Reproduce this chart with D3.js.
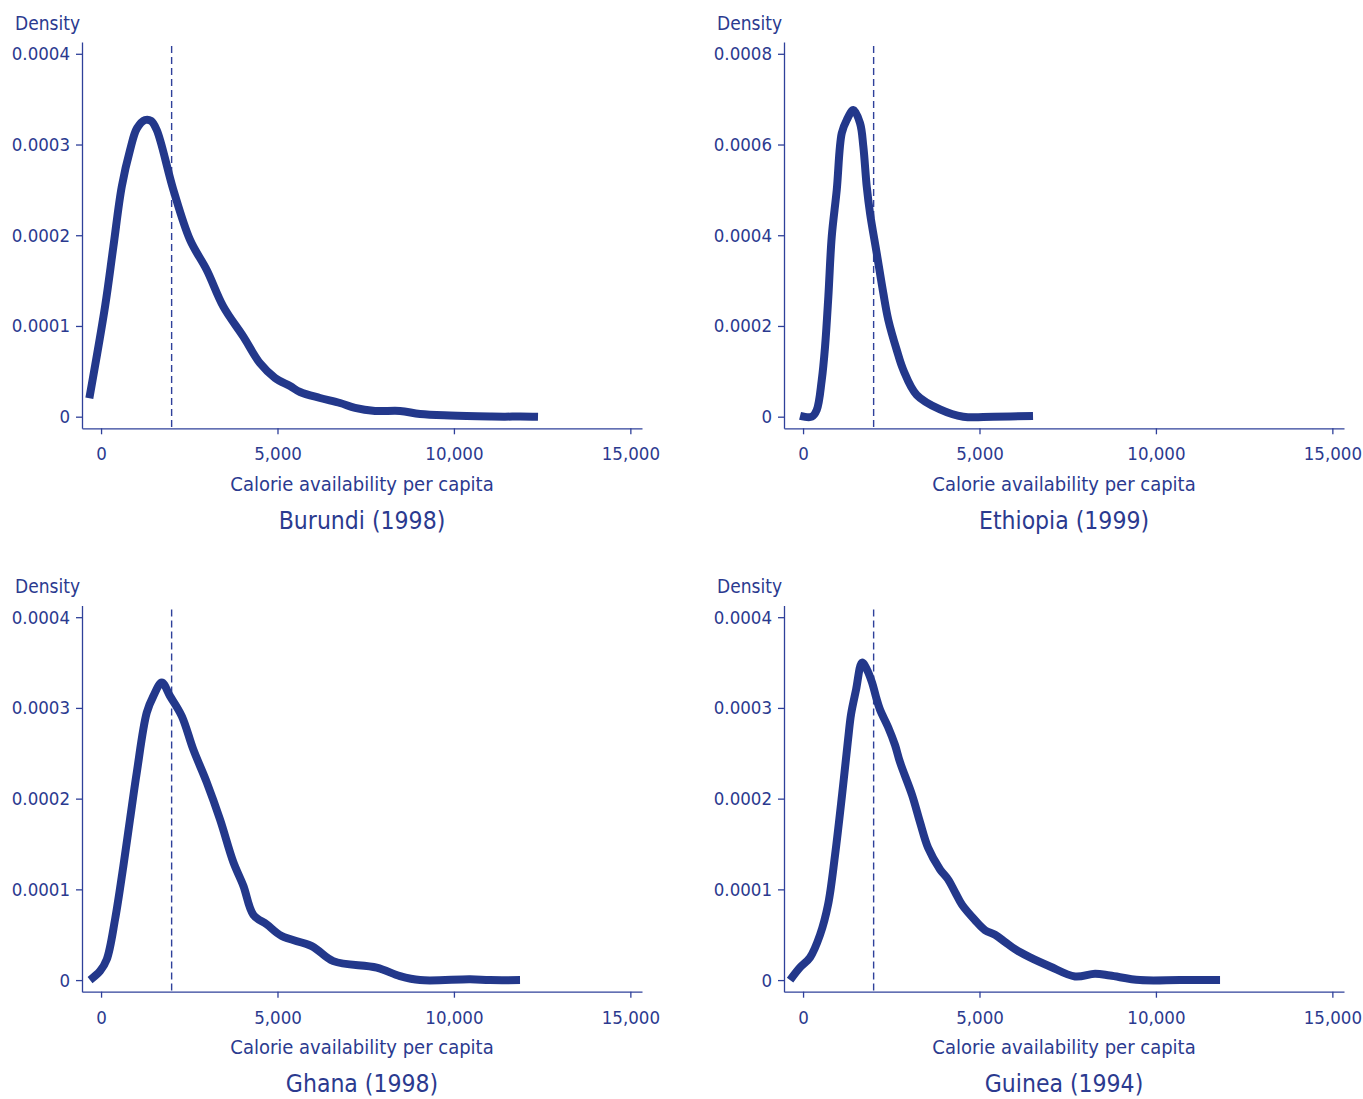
<!DOCTYPE html>
<html>
<head>
<meta charset="utf-8">
<script src="https://cdn.jsdelivr.net/npm/d3@7"></script>
<style>
body { margin: 0; background: #fff; }
text { font-family: "Liberation Sans Narrow", "DejaVu Sans Condensed", "Arial Narrow", sans-serif; fill: #2b3a8f; }
</style>
</head>
<body>
<div id="chart"></div>
<script>
// values
var titles = ["Burundi (1998)", "Ethiopia (1999)", "Ghana (1998)", "Guinea (1994)"];
var yMaxes = [0.0004, 0.0008, 0.0004, 0.0004];
var xTicks = [0, 5000, 10000, 15000];
var cutoff = 2000;

var burundiX = [-332, 113, 349, 587, 822, 1020, 1247, 1417, 1578, 2049, 2522, 2995, 3466, 4033, 4506, 4931, 5356, 5639, 6206, 6773, 7198, 7765, 8473, 9040, 9890, 11023, 11448, 11873, 12383];
var burundiY = [0.0000203, 0.0001213, 0.0001874, 0.0002536, 0.000294, 0.000318, 0.000327, 0.000326, 0.000316, 0.000250, 0.0001948, 0.0001617, 0.0001213, 0.0000882, 0.0000588, 0.0000427, 0.0000338, 0.0000272, 0.0000206, 0.0000151, 0.0000096, 0.0000063, 0.0000063, 0.000003, 0.0000013, 0.0000002, 0, 0.0000003, 0];

var ethiopiaX = [-85, 247, 388, 530, 623, 717, 813, 955, 1097, 1238, 1425, 1615, 1709, 1805, 1899, 2088, 2275, 2417, 2655, 2842, 3222, 3882, 4542, 5393, 6517];
var ethiopiaY = [0.000002, 0, 0.0000148, 0.000081, 0.000154, 0.000265, 0.000397, 0.000500, 0.000625, 0.000654, 0.000676, 0.000647, 0.000595, 0.000507, 0.000448, 0.000360, 0.000272, 0.000213, 0.000147, 0.000103, 0.000048, 0.000016, 0, 0, 0.0000015];

var ghanaX = [-312, -28, 162, 397, 632, 822, 1012, 1295, 1482, 1720, 1955, 2287, 2616, 2995, 3372, 3749, 4032, 4316, 4695, 5120, 5971, 6583, 7812, 8473, 9040, 10457, 11023, 11873];
var ghanaY = [0, 0.0000099, 0.0000228, 0.0000669, 0.0001257, 0.0001775, 0.0002287, 0.0002948, 0.000313, 0.000328, 0.000313, 0.000291, 0.000254, 0.000218, 0.000177, 0.000130, 0.000104, 0.000072, 0.0000614, 0.0000485, 0.0000375, 0.0000209, 0.0000137, 0.0000044, 0, 0.0000008, 0, 0];

var guineaX = [-368, -85, 198, 482, 708, 907, 1105, 1275, 1360, 1502, 1672, 1814, 1955, 2069, 2182, 2409, 2607, 2749, 3089, 3315, 3542, 3882, 4109, 4307, 4505, 4874, 5157, 5441, 5724, 6007, 6433, 6999, 7708, 8275, 8700, 9550, 10683, 11817];
var guineaY = [0, 0.000014, 0.000025, 0.000050, 0.000083, 0.000138, 0.000204, 0.000265, 0.000293, 0.000320, 0.000350, 0.000342, 0.000328, 0.000312, 0.000298, 0.000279, 0.000259, 0.000240, 0.000204, 0.000174, 0.000146, 0.000122, 0.000111, 0.000097, 0.000083, 0.000066, 0.000055, 0.000050, 0.000042, 0.000034, 0.000025, 0.000015, 0.000004, 0.000007, 0.000005, 0, 0, 0];

var seriesX = [burundiX, ethiopiaX, ghanaX, guineaX];
var seriesY = [burundiY, ethiopiaY, ghanaY, guineaY];

var blue = "#23388b";
var axisBlue = "#2f409a";

var W = 1363, H = 1099;
var pw = 560, ph = 386.3;

var svg = d3.select("#chart").append("svg")
    .attr("width", W)
    .attr("height", H);

titles.forEach(function(title, i) {
    var col = i % 2, row = Math.floor(i / 2);
    var g = svg.append("g")
        .attr("transform", "translate(" + (82 + col * 702) + "," + (42 + row * 563.4) + ")");

    var yMax = yMaxes[i];
    var x = d3.scaleLinear().domain([-540, 15330]).range([0, pw]);
    var y = d3.scaleLinear().domain([-0.032 * yMax, 1.0325 * yMax]).range([ph, 0]);

    var yTicks = d3.range(0, 5).map(function(k) { return k * yMax / 4; });

    var yAxis = g.append("g")
        .call(d3.axisLeft(y)
            .tickValues(yTicks)
            .tickSize(6)
            .tickSizeOuter(0)
            .tickPadding(6)
            .tickFormat(function(d) { return d === 0 ? "0" : d.toFixed(4); }));

    var xAxis = g.append("g")
        .attr("transform", "translate(0," + ph + ")")
        .call(d3.axisBottom(x)
            .tickValues(xTicks)
            .tickSize(6)
            .tickSizeOuter(0)
            .tickPadding(13)
            .tickFormat(d3.format(",")));

    [yAxis, xAxis].forEach(function(a) {
        a.selectAll("path, line").attr("stroke", axisBlue).attr("stroke-width", 1.3);
        a.selectAll("text").style("font-size", "18.5px").attr("fill", "#2b3a8f");
    });

    // cutoff line
    g.append("line")
        .attr("x1", x(cutoff)).attr("x2", x(cutoff))
        .attr("y1", 4).attr("y2", ph)
        .attr("stroke", axisBlue)
        .attr("stroke-width", 1.4)
        .attr("stroke-dasharray", "7,4");

    var pts = seriesX[i].map(function(v, k) { return [v, seriesY[i][k]]; });
    var line = d3.line()
        .x(function(d) { return x(d[0]); })
        .y(function(d) { return y(d[1]); })
        .curve(d3.curveCatmullRom.alpha(0.5));

    g.append("path")
        .datum(pts)
        .attr("d", line)
        .attr("fill", "none")
        .attr("stroke", blue)
        .attr("stroke-width", 8)
        .attr("stroke-linejoin", "round");

    g.append("text")
        .attr("x", -67).attr("y", -12.5)
        .style("font-size", "19px")
        .text("Density");

    g.append("text")
        .attr("x", pw / 2).attr("y", 448.7)
        .attr("text-anchor", "middle")
        .style("font-size", "20px")
        .text("Calorie availability per capita");

    g.append("text")
        .attr("x", pw / 2).attr("y", 487)
        .attr("text-anchor", "middle")
        .style("font-size", "24.5px")
        .text(title);
});
</script>
</body>
</html>
